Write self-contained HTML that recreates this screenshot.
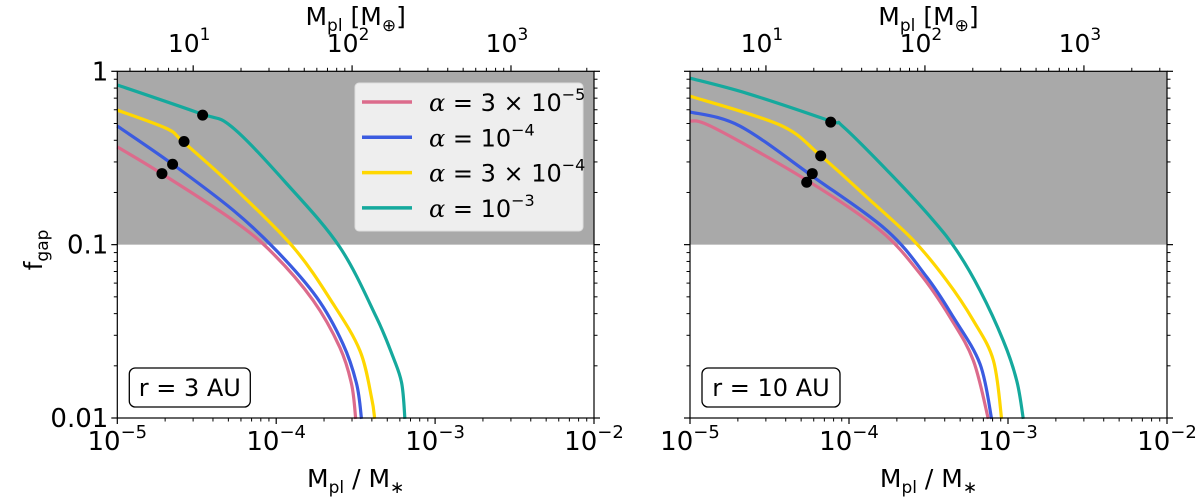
<!DOCTYPE html>
<html><head><meta charset="utf-8"><style>
body{margin:0;background:#fff;}
svg text{font-family:"DejaVu Sans","Liberation Sans",sans-serif;fill:#000;}
</style></head><body>
<svg id="fig" width="1200" height="497" viewBox="0 0 1200 497" xmlns="http://www.w3.org/2000/svg"></svg>
<script>
// ---- data (log10 of Mpl/M*, log10 of f_gap) ----
const seriesNames = ["alpha-3e-5","alpha-1e-4","alpha-3e-4","alpha-1e-3"];
const seriesColors = ["#dc6b8c","#3b5be0","#ffd700","#15a99d"];
const legendLabels = [["3 × 10","−5"],["10","−4"],["3 × 10","−4"],["10","−3"]];
// left panel r = 3 AU
const leftPinkX  = [-5,-4.721,-4.27,-4.019,-3.767,-3.60,-3.526,-3.50];
const leftPinkY  = [-0.436,-0.59,-0.86,-1.052,-1.322,-1.592,-1.803,-2.005];
const leftBlueX  = [-5,-4.658,-4.27,-4.0,-3.746,-3.58,-3.494,-3.463];
const leftBlueY  = [-0.316,-0.532,-0.802,-1.033,-1.303,-1.572,-1.803,-2.005];
const leftYellowX= [-5,-4.69,-4.585,-4.27,-3.893,-3.642,-3.473,-3.40,-3.38];
const leftYellowY= [-0.224,-0.33,-0.407,-0.667,-1.014,-1.341,-1.611,-1.881,-2.005];
const leftTealX  = [-5,-4.48,-4.28,-3.935,-3.60,-3.37,-3.264,-3.21,-3.19];
const leftTealY  = [-0.079,-0.243,-0.32,-0.647,-1.014,-1.418,-1.65,-1.80,-2.005];
const leftDotX   = [-4.719,-4.652,-4.58,-4.463];
const leftDotY   = [-0.59,-0.536,-0.405,-0.253];
// right panel r = 10 AU
const rightPinkX  = [-5,-4.853,-4.266,-3.805,-3.553,-3.365,-3.218,-3.124];
const rightPinkY  = [-0.286,-0.324,-0.628,-0.917,-1.168,-1.418,-1.668,-2.005];
const rightBlueX  = [-5,-4.686,-4.224,-3.763,-3.511,-3.344,-3.176,-3.103];
const rightBlueY  = [-0.234,-0.316,-0.609,-0.917,-1.187,-1.418,-1.688,-2.005];
const rightYellowX= [-5,-4.434,-4.182,-3.889,-3.595,-3.386,-3.218,-3.092,-3.04];
const rightYellowY= [-0.143,-0.31,-0.484,-0.725,-0.975,-1.206,-1.437,-1.668,-2.005];
const rightTealX  = [-5,-4.643,-4.12,-4.036,-3.721,-3.47,-3.323,-3.176,-3.03,-2.945,-2.904];
const rightTealY  = [-0.04,-0.127,-0.286,-0.32,-0.609,-0.86,-1.033,-1.264,-1.553,-1.784,-2.005];
const rightDotX   = [-4.266,-4.231,-4.178,-4.115];
const rightDotY   = [-0.64,-0.59,-0.488,-0.293];
const xTickExps = [-5,-4,-3,-2];
const yTickVals = [0,-1,-2];
const yTickLabels = ["1","0.1","0.01"];
const topTickExps = [1,2,3];
const earthPerSolar = 333000;
const gapLimit = -1;

const NS="http://www.w3.org/2000/svg";
const svg=document.getElementById('fig');
function el(t,a,p){const e=document.createElementNS(NS,t);for(const k in a)e.setAttribute(k,a[k]);(p||svg).appendChild(e);return e;}

const Y0=71.3,Y1=418,DEC=173.35;
function ys(l){return Y0+(0-l)*DEC;}

function smoothPath(P){
  let d='M'+P[0][0].toFixed(1)+','+P[0][1].toFixed(1);
  const t=1/6;
  for(let i=0;i<P.length-1;i++){
    const p0=P[Math.max(0,i-1)],p1=P[i],p2=P[i+1],p3=P[Math.min(P.length-1,i+2)];
    const c1=[p1[0]+(p2[0]-p0[0])*t,p1[1]+(p2[1]-p0[1])*t];
    const c2=[p2[0]-(p3[0]-p1[0])*t,p2[1]-(p3[1]-p1[1])*t];
    d+='C'+c1[0].toFixed(1)+','+c1[1].toFixed(1)+' '+c2[0].toFixed(1)+','+c2[1].toFixed(1)+' '+p2[0].toFixed(1)+','+p2[1].toFixed(1);
  }
  return d;
}

function panel(x0,x1,name,label,data,dots,showY){
  const dec=(x1-x0)/3;
  const xs=l=>x0+(l+5)*dec;
  const g=el('g',{});
  
  
  const shade=el('rect',{x:x0,y:Y0,width:x1-x0,height:ys(gapLimit)-Y0,fill:'#a9a9a9'},g);
  
  
  data.forEach((s,i)=>{
    const pts=s[0].map((v,j)=>[xs(v),ys(s[1][j])]);
    const p=el('path',{d:smoothPath(pts),fill:'none',stroke:seriesColors[i],'stroke-width':3.2,'stroke-linejoin':'round'},g);
    
    
  });
  dots[0].forEach((v,i)=>{
    const c=el('circle',{cx:xs(v),cy:ys(dots[1][i]),r:5.5,fill:'#000'},g);
    
    
  });
  el('rect',{x:x0,y:Y0,width:x1-x0,height:Y1-Y0,fill:'none',stroke:'#000','stroke-width':1.2},g);
  for(let e=-5;e<=-2;e++){
    el('line',{x1:xs(e),x2:xs(e),y1:Y1,y2:Y1+6,stroke:'#000','stroke-width':1.2},g);
    if(e<-2)for(let m=2;m<10;m++){const x=xs(e+Math.log10(m));el('line',{x1:x,x2:x,y1:Y1,y2:Y1+3.5,stroke:'#000'},g);}
  }
  xTickExps.forEach(e=>{
    const t=el('text',{x:xs(e),y:450,'font-size':26,'text-anchor':'middle'},g);
    
    
    t.innerHTML='10<tspan dy="-12" font-size="18">−'+(-e)+'</tspan>';
  });
  const off=Math.log10(earthPerSolar);
  const xt=lm=>xs(lm-off);
  for(let e=0;e<=3;e++)for(let m=1;m<10;m++){
    const lm=e+Math.log10(m),x=xt(lm);
    if(x<x0-0.5||x>x1+0.5)continue;
    el('line',{x1:x,x2:x,y1:Y0,y2:Y0-(m==1?6:3.5),stroke:'#000','stroke-width':m==1?1.2:1},g);
  }
  topTickExps.forEach(e=>{
    const t=el('text',{x:xt(e)-4,y:52,'font-size':25,'text-anchor':'middle'},g);
    
    
    t.innerHTML='10<tspan dy="-12" font-size="17">'+e+'</tspan>';
  });
  for(let e=0;e>=-2;e--){
    [x0,x1].forEach((xx,s)=>{const d=s?1:-1;
      el('line',{x1:xx,x2:xx+d*6,y1:ys(e),y2:ys(e),stroke:'#000','stroke-width':1.2},g);
      if(e>-2)for(let m=2;m<10;m++){const y=ys(e-1+Math.log10(m));el('line',{x1:xx,x2:xx+d*3.5,y1:y,y2:y,stroke:'#000'},g);}
    });
  }
  if(showY){
    yTickVals.forEach((v,i)=>{
      const t=el('text',{x:x0-9,y:ys(v)+9,'font-size':26,'text-anchor':'end'},g);
      
      
      t.textContent=yTickLabels[i];
    });
  }
  const xl=el('text',{x:(x0+x1)/2,y:487,'font-size':25,'text-anchor':'middle'},g);
  
  
  xl.innerHTML='M<tspan dy="6" font-size="17">pl</tspan><tspan dy="-6"> / M</tspan><tspan dy="6" font-size="17">∗</tspan>';
  const tl=el('text',{x:(x0+x1)/2,y:25,'font-size':25,'text-anchor':'middle'},g);
  
  
  tl.innerHTML='M<tspan dy="6" font-size="17">pl</tspan><tspan dy="-6"> [M</tspan><tspan dy="6" font-size="17">⊕</tspan><tspan dy="-6">]</tspan>';
  const bw=label.length>8?138:121;
  const bx=x0+12;
  const ab=el('rect',{x:bx,y:368,width:bw,height:39,rx:6,fill:'#fff',stroke:'#000','stroke-width':1.3},g);
  
  
  const at=el('text',{x:bx+bw/2,y:396,'font-size':24,'text-anchor':'middle'},g);
  
  
  at.textContent=label;
  return {xs};
}

panel(117.3,594,'left-panel','r = 3 AU',
  [[leftPinkX,leftPinkY],[leftBlueX,leftBlueY],[leftYellowX,leftYellowY],[leftTealX,leftTealY]],[leftDotX,leftDotY],true);
panel(690,1167,'right-panel','r = 10 AU',
  [[rightPinkX,rightPinkY],[rightBlueX,rightBlueY],[rightYellowX,rightYellowY],[rightTealX,rightTealY]],[rightDotX,rightDotY],false);

const yl=el('text',{x:0,y:0,'font-size':25,'text-anchor':'middle',transform:'translate(42,250) rotate(-90)'});


yl.innerHTML='f<tspan dy="6" font-size="17">gap</tspan>';

const lg=el('g',{});


el('rect',{x:355,y:83,width:228,height:148,rx:4,fill:'#eeeeee',stroke:'#dddddd'},lg);
legendLabels.forEach((lb,i)=>{
  const y=102+i*35.3;
  const li=el('line',{x1:362,x2:412,y1:y,y2:y,stroke:seriesColors[i],'stroke-width':3.5},lg);
  
  
  const t=el('text',{x:429,y:y+9,'font-size':24},lg);
  
  
  t.innerHTML='<tspan font-style="italic" font-family="DejaVu Serif, serif">α</tspan> = '+lb[0]+'<tspan dy="-11" font-size="16">'+lb[1]+'</tspan>';
});
</script>
</body></html>
